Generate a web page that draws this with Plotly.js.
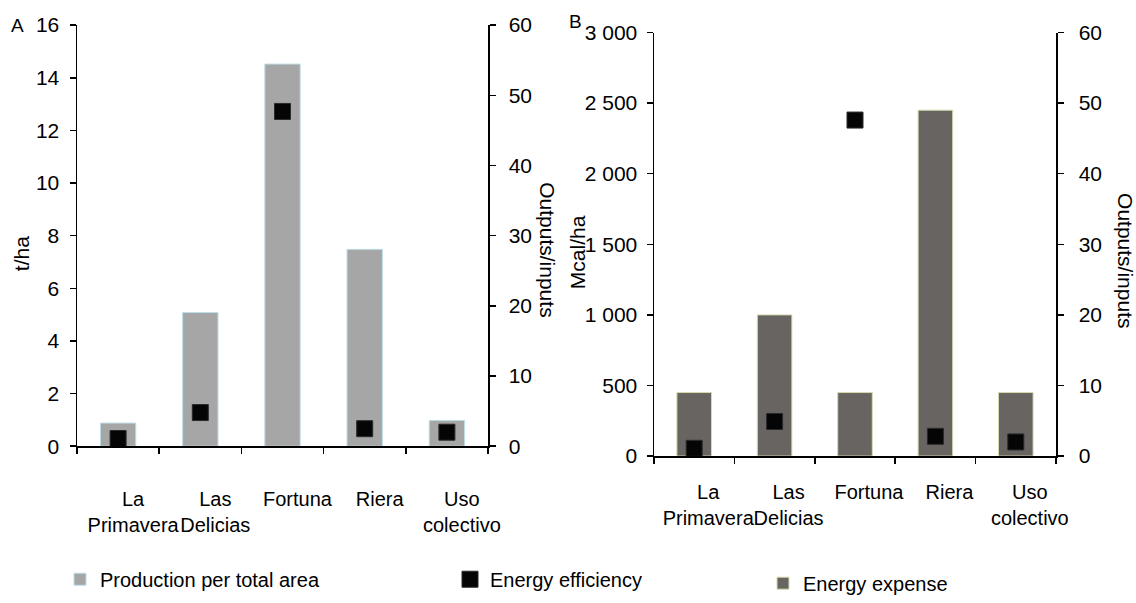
<!DOCTYPE html>
<html>
<head>
<meta charset="utf-8">
<script src="https://cdn.plot.ly/plotly-3.0.1.min.js"></script>
<style>html,body{margin:0;padding:0;background:#fff;}#chart{width:1136px;height:603px;}</style>
</head>
<body>
<div id="chart"></div>
<script>
// ---- Data ----
const categories = ['La<br>Primavera', 'Las<br>Delicias', 'Fortuna', 'Riera', 'Uso<br>colectivo'];
const productionPerArea = [0.88, 5.08, 14.52, 7.48, 0.98];      // t/ha (panel A)
const efficiencyA = [1.1, 4.8, 47.7, 2.5, 2.0];                 // outputs/inputs (panel A)
const energyExpense = [450, 1000, 450, 2450, 450];              // Mcal/ha (panel B)
const efficiencyB = [1.1, 4.9, 47.6, 2.8, 2.0];                 // outputs/inputs (panel B)
const yTicksA = [0, 2, 4, 6, 8, 10, 12, 14, 16];
const yTicksRight = [0, 10, 20, 30, 40, 50, 60];
const yTicksB = [0, 500, 1000, 1500, 2000, 2500, 3000];

// ---- Layout helpers (pixel -> paper) ----
const W = 1136, H = 603;
const px = x => x / W;
const py = y => (H - y) / H;
const FONT = 'Liberation Sans, Arial, sans-serif';

const traces = [
  {
    type: 'bar', x: categories, y: productionPerArea, xaxis: 'x', yaxis: 'y',
    name: 'Production per total area', legend: 'legend',
    marker: {color: '#a6a6a6', line: {color: '#bcdde6', width: 1}},
    hoverinfo: 'skip'
  },
  {
    type: 'scatter', mode: 'markers', x: categories, y: efficiencyA, xaxis: 'x', yaxis: 'y2',
    name: 'Energy efficiency', legend: 'legend2',
    marker: {symbol: 'square', size: 16, color: '#050505', line: {color: '#2a2a2a', width: 1}},
    cliponaxis: false, hoverinfo: 'skip'
  },
  {
    type: 'bar', x: categories, y: energyExpense, xaxis: 'x2', yaxis: 'y3',
    name: 'Energy expense', legend: 'legend3',
    marker: {color: '#676462', line: {color: '#d6dcae', width: 1}},
    hoverinfo: 'skip'
  },
  {
    type: 'scatter', mode: 'markers', x: categories, y: efficiencyB, xaxis: 'x2', yaxis: 'y4',
    name: 'Energy efficiency', showlegend: false,
    marker: {symbol: 'square', size: 16, color: '#050505', line: {color: '#2a2a2a', width: 1}},
    cliponaxis: false, hoverinfo: 'skip'
  }
];

const baseY = {
  showgrid: false, zeroline: false, showline: true, linecolor: '#000', linewidth: 1.5,
  ticks: 'outside', ticklen: 6, tickcolor: '#000', tickwidth: 1.5,
  tickfont: {family: FONT, size: 21, color: '#000'}, tickmode: 'array', fixedrange: true
};
const baseX = {
  type: 'category', showgrid: false, zeroline: false, showline: true, linecolor: '#000', linewidth: 1.5,
  ticks: 'outside', ticklen: 6, tickcolor: '#000', tickwidth: 1.5, tickson: 'boundaries',
  tickfont: {family: FONT, size: 20, color: '#000'}, tickangle: 0, fixedrange: true
};

const legFont = {family: FONT, size: 20, color: '#000'};
const ann = (text, x, y, size, angle) => ({
  text, xref: 'paper', yref: 'paper', x: px(x), y: py(y), xanchor: 'center', yanchor: 'middle',
  textangle: angle || 0, showarrow: false, font: {family: FONT, size, color: '#000'}
});

const layout = {
  width: W, height: H,
  margin: {l: 0, r: 0, t: 0, b: 0},
  paper_bgcolor: '#fff', plot_bgcolor: 'rgba(0,0,0,0)',
  separators: '. ',
  bargap: 0.57,
  font: {family: FONT, size: 20, color: '#000'},
  xaxis: Object.assign({}, baseX, {domain: [px(77), px(488)], anchor: 'y', ticklabelshift: 15, ticklabelstandoff: 34}),
  yaxis: Object.assign({}, baseY, {domain: [py(453), py(25.5)], range: [0, 16], tickvals: yTicksA, anchor: 'x', ticklabelstandoff: 6}),
  yaxis2: Object.assign({}, baseY, {overlaying: 'y', side: 'right', range: [0, 60], tickvals: yTicksRight, anchor: 'x', ticklabelstandoff: 9}),
  xaxis2: Object.assign({}, baseX, {domain: [px(654), px(1056)], anchor: 'y3', ticklabelshift: 14, ticklabelstandoff: 17}),
  yaxis3: Object.assign({}, baseY, {domain: [py(463), py(33)], range: [0, 3000], tickvals: yTicksB, tickformat: ',', anchor: 'x2', ticklabelstandoff: 5}),
  yaxis4: Object.assign({}, baseY, {overlaying: 'y3', side: 'right', range: [0, 60], tickvals: yTicksRight, anchor: 'x2', ticklabelstandoff: 11}),
  showlegend: true,
  legend: {x: px(60), y: py(588), xanchor: 'left', yanchor: 'middle', orientation: 'h', bgcolor: 'rgba(0,0,0,0)', font: legFont},
  legend2: {x: px(450), y: py(588), xanchor: 'left', yanchor: 'middle', orientation: 'h', bgcolor: 'rgba(0,0,0,0)', font: legFont},
  legend3: {x: px(763), y: py(592), xanchor: 'left', yanchor: 'middle', orientation: 'h', bgcolor: 'rgba(0,0,0,0)', font: legFont},
  annotations: [
    ann('A', 17, 26, 19),
    ann('B', 575, 22, 19),
    ann('t/ha', 21, 258, 21, -90),
    ann('Outputs/inputs', 548, 253, 21, 90),
    ann('Mcal/ha', 577, 256, 21, -90),
    ann('Outputs/inputs', 1126, 264, 21, 90)
  ]
};

Plotly.newPlot('chart', traces, layout, {displayModeBar: false, staticPlot: true});
</script>
</body>
</html>
